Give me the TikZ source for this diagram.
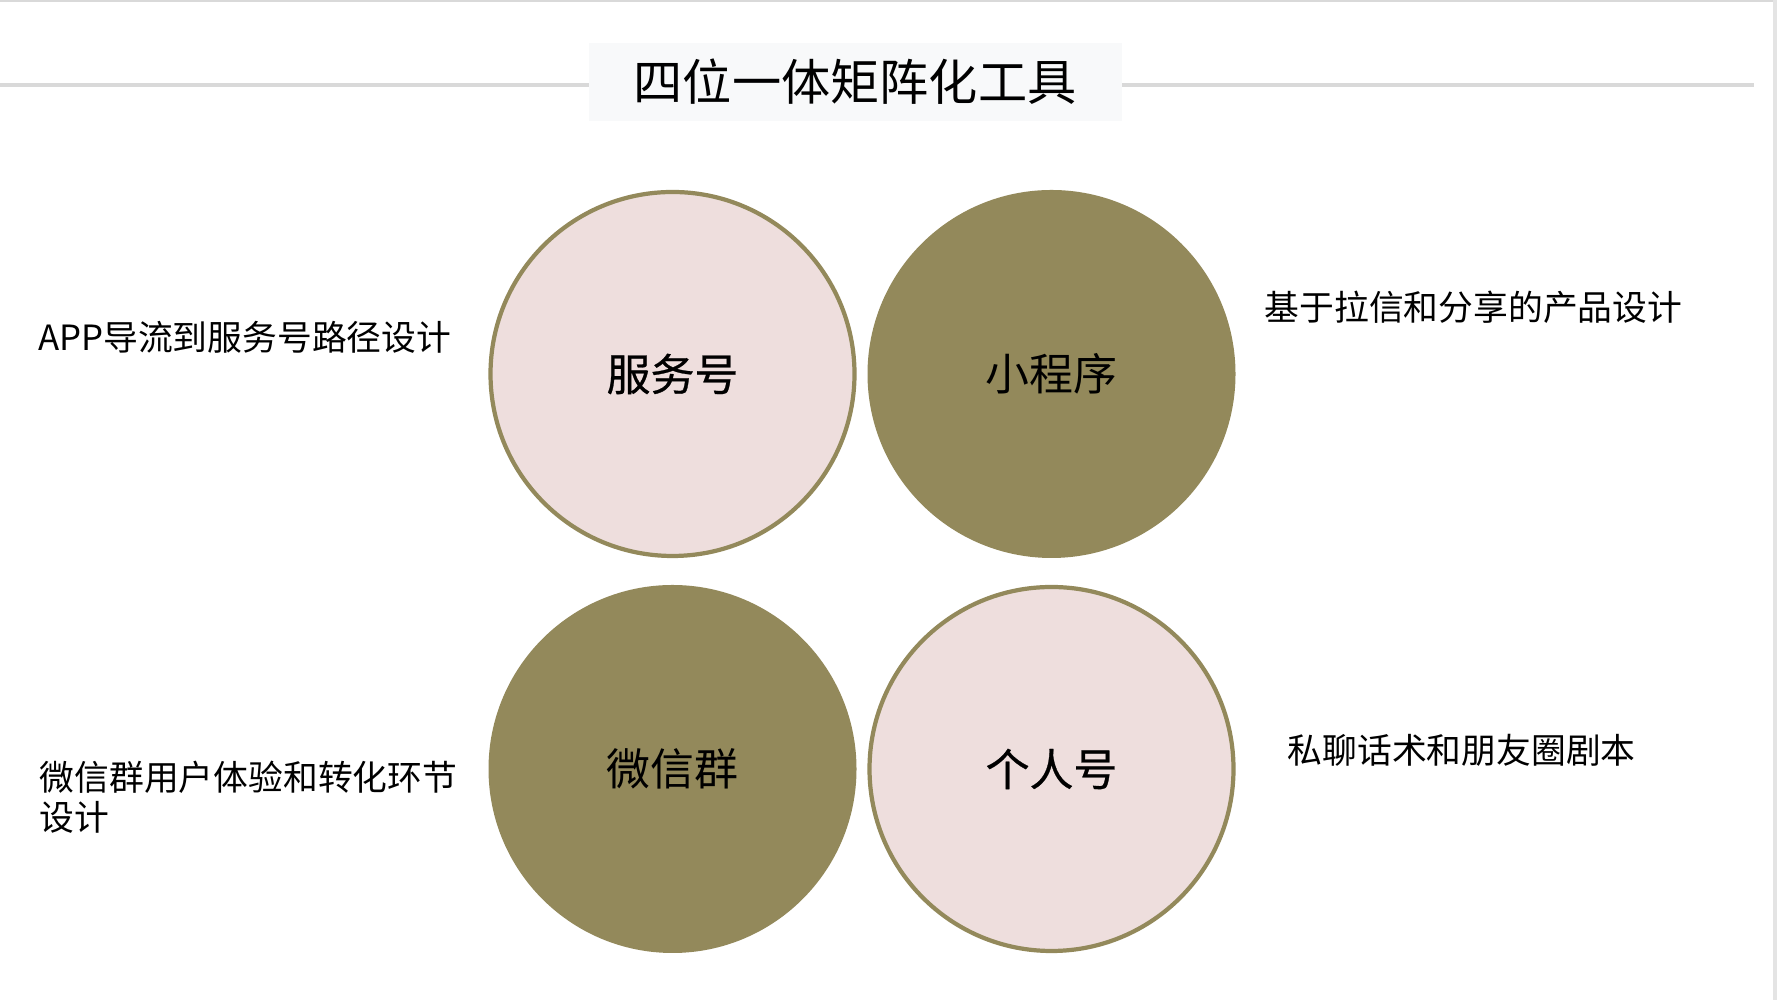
\documentclass[tikz,border=0pt]{standalone}
\usepackage{fontspec}
\setmainfont{Noto Sans CJK SC}
\newfontfamily\medfont[FakeBold=0.6]{Noto Sans CJK SC}
\usepackage{tikz}
\usetikzlibrary{shapes}

\definecolor{moss}{HTML}{93895B}
\definecolor{blush}{HTML}{EEDEDD}
\definecolor{rulegrey}{HTML}{D9D9D9}
\definecolor{titlebg}{HTML}{F8F9FA}

\begin{document}
\begin{tikzpicture}[pink/.style = {draw=moss, line width=1.2pt, fill=blush, circle, minimum size=3.64cm, inner sep=0pt, font=\fontsize{12.5}{15}\selectfont\medfont},
                    dark/.style = {fill=moss, circle, minimum size=3.68cm, inner sep=0pt, font=\fontsize{12.5}{15}\selectfont},
                    side/.style = {anchor=west, inner sep=0pt, align=left, font=\fontsize{9.9}{11.4}\selectfont}]
            \useasboundingbox (0,0) rectangle (17.82,10);
            \draw[rulegrey, line width=0.6pt] (0,9.995) -- (17.75,9.995);
            \draw[rulegrey!70, line width=1.2pt] (17.75,10) -- (17.75,0);
            \draw[rulegrey, line width=1.4pt] (0,9.15) -- (17.54,9.15);

            \node[fill=titlebg, minimum width=5.33cm, minimum height=0.78cm, inner sep=0pt, font=\fontsize{14}{17}\selectfont] at (8.55, 9.18) (title) {四位一体矩阵化工具};

            \node[pink] at (6.725, 6.26) (fwh) {服务号};
            \node[dark] at (10.515, 6.26) (xcx) {小程序};
            \node[dark] at (6.725, 2.31) (wxq) {微信群};
            \node[pink] at (10.515, 2.31) (grh) {个人号};

            \node[side] at (0.375, 6.63) (appt) {APP导流到服务号路径设计};
            \node[side] at (12.64, 6.93) (xcxt) {基于拉信和分享的产品设计};
            \node[side] at (0.39, 2.03) (wxqt) {微信群用户体验和转化环节\\设计};
            \node[side] at (12.87, 2.50) (grht) {私聊话术和朋友圈剧本};
\end{tikzpicture}
\end{document}
